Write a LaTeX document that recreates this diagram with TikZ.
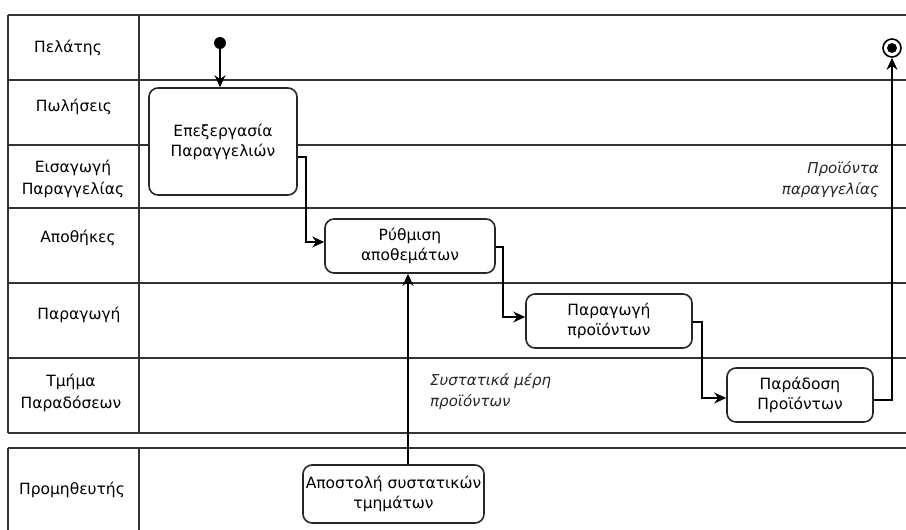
\documentclass[tikz,border=0pt]{standalone}
\usepackage{fontspec}
\setmainfont{DejaVu Sans}
\usetikzlibrary{arrows.meta}
\begin{document}
\begin{tikzpicture}[x=1pt,y=-1pt,
  lane/.style={line width=2.2pt, draw=black!80},
  act/.style={draw=black!85, fill=white, line width=1.6pt, rounded corners=9pt, align=center,
    font=\fontsize{15.5}{20}\selectfont, text=black, inner sep=0pt},
  flow/.style={line width=1.3pt, draw=black, -{Stealth[length=12pt,width=11pt]}},
  lbl/.style={align=center, font=\fontsize{15.5}{22}\selectfont, text=black, inner sep=0pt},
  note/.style={font=\fontsize{15}{21}\selectfont\itshape, text=black!85, inner sep=0pt}]
\useasboundingbox (0,0) rectangle (906,530);
% swimlane table
\foreach \yy in {15,80,145,208,283,358,433} \draw[lane] (8,\yy) -- (906,\yy);
\draw[lane] (8,15) -- (8,433);
\draw[lane] (139,15) -- (139,433);
\draw[lane] (8,448) -- (906,448);
\draw[lane] (8,448) -- (8,531);
\draw[lane] (139,448) -- (139,531);
% lane labels
\node[lbl] (l1) at (68,48) {Πελάτης};
\node[lbl] (l2) at (74,107) {Πωλήσεις};
\node[lbl] (l3) at (73,179) {Εισαγωγή\\Παραγγελίας};
\node[lbl] (l4) at (78,238) {Αποθήκες};
\node[lbl] (l5) at (79,315) {Παραγωγή};
\node[lbl] (l6) at (71,393) {Τμήμα\\Παραδόσεων};
\node[lbl] (l7) at (72,490) {Προμηθευτής};
% activities
\node[act, minimum width=148pt, minimum height=107pt] (proc) at (223,141.5) {Επεξεργασία\\Παραγγελιών};
\node[act, minimum width=170pt, minimum height=54pt] (ryth) at (410,246) {Ρύθμιση\\αποθεμάτων};
\node[act, minimum width=166pt, minimum height=54pt] (prod) at (609,321) {Παραγωγή\\προϊόντων};
\node[act, minimum width=146pt, minimum height=54pt] (deliv) at (800,395) {Παράδοση\\Προϊόντων};
\node[act, minimum width=181pt, minimum height=58pt] (sup) at (393.5,494) {Αποστολή συστατικών\\τμημάτων};
% start / end
\node[circle, fill=black, minimum size=12pt, inner sep=0pt] (start) at (220,43) {};
\node[circle, draw=black, line width=1.6pt, minimum size=18pt, inner sep=0pt] (end) at (892,48) {};
\node[circle, fill=black, minimum size=10pt, inner sep=0pt] (endin) at (892,48) {};
% notes
\node[note, anchor=north east, align=right] (n1) at (879,161) {Προϊόντα\\παραγγελίας};
\node[note, anchor=north west, align=left] (n2) at (430,373) {Συστατικά μέρη\\προϊόντων};
% flows
\coordinate (t1) at (306,157);
\coordinate (t2) at (503,247);
\coordinate (t3) at (702,322);
\coordinate (t4) at (892,400);
\coordinate (t5) at (408,0);
\draw[flow] (start) -- (proc.north -| start);
\draw[flow] (proc.east |- t1) -- (t1) |- ([yshift=4pt]ryth.west);
\draw[flow] (ryth.east |- t2) -- (t2) |- ([yshift=4pt]prod.west);
\draw[flow] (prod.east |- t3) -- (t3) |- ([yshift=-3pt]deliv.west);
\draw[flow] (deliv.east |- t4) -- (t4) -- (end.south);
\draw[flow] (sup.north -| t5) -- (ryth.south -| t5);
\end{tikzpicture}
\end{document}
